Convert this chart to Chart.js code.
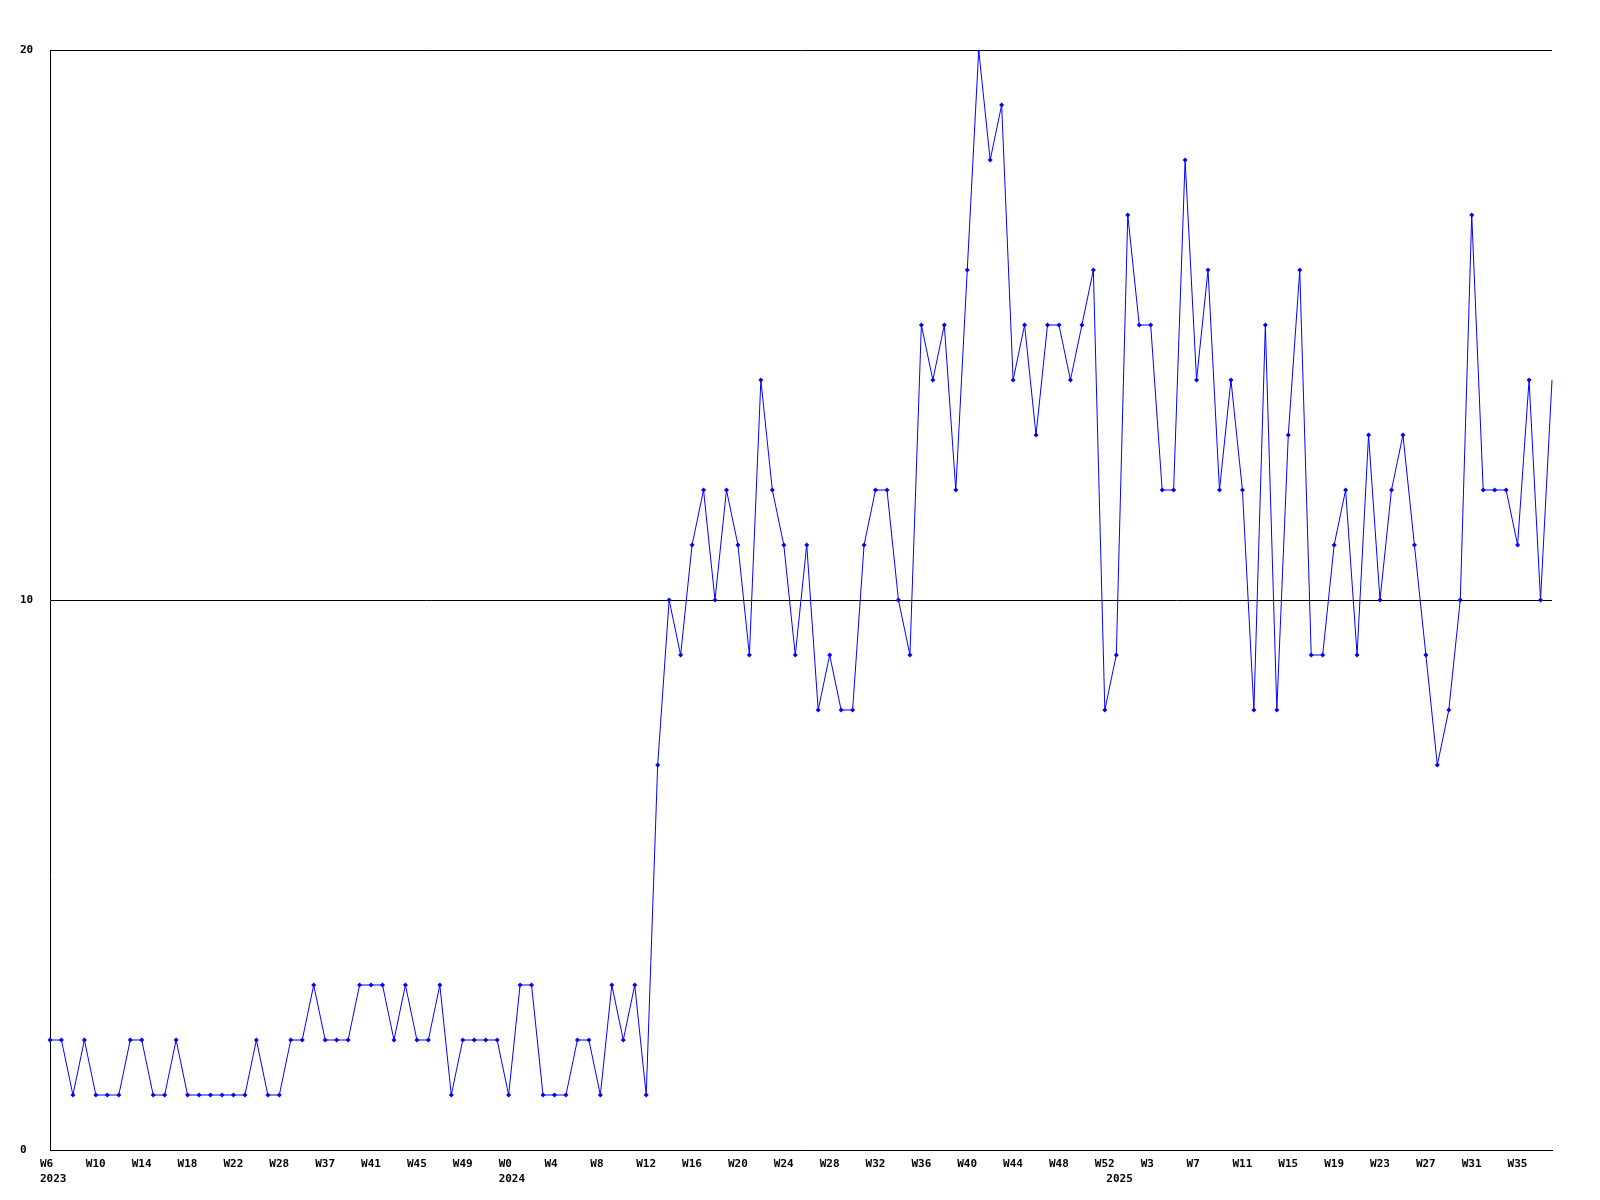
<!DOCTYPE html>
<html>
<head>
<meta charset="utf-8">
<script src="https://cdn.jsdelivr.net/npm/chart.js@4.4.1/dist/chart.umd.min.js"></script>
<style>
  body { margin: 0; background: #fff; }
  #wrap { width: 1600px; height: 1200px; }
</style>
</head>
<body>
<div id="wrap"><canvas id="chart" width="1600" height="1200"></canvas></div>
<script>
// weeks shown on the x axis, per year
const weeks2023 = [6, 7, 8, 9, 10, 11, 12, 13, 14, 15, 16, 17, 18, 19, 20, 21, 22, 23, 26, 27,
    28, 29, 35, 36, 37, 38, 39, 40, 41, 42, 43, 44, 45, 46, 47, 48, 49, 50, 51, 52];
const weeks2024 = [0, 1, 2, 3, 4, 5, 6, 7, 8, 9, 10, 11, 12, 13, 14, 15, 16, 17, 18, 19, 20,
    21, 22, 23, 24, 25, 26, 27, 28, 29, 30, 31, 32, 33, 34, 35, 36, 37, 38, 39, 40, 41, 42,
    43, 44, 45, 46, 47, 48, 49, 50, 51, 52];
const weeks2025 = [0, 1, 2, 3, 4, 5, 6, 7, 8, 9, 10, 11, 12, 13, 14, 15, 16, 17, 18, 19, 20,
    21, 22, 23, 24, 25, 26, 27, 28, 29, 30, 31, 32, 33, 34, 35, 36, 37, 38];
const years = ["2023", "2024", "2025"];

const counts = [
    2, 2, 1, 2, 1, 1, 1, 2, 2, 1, 1, 2, 1, 1, 1, 1, 1, 1, 2, 1,
    1, 2, 2, 3, 2, 2, 2, 3, 3, 3, 2, 3, 2, 2, 3, 1, 2, 2, 2, 2,
    1, 3, 3, 1, 1, 1, 2, 2, 1, 3, 2, 3, 1, 7, 10, 9, 11, 12, 10, 12,
    11, 9, 14, 12, 11, 9, 11, 8, 9, 8, 8, 11, 12, 12, 10, 9, 15, 14, 15, 12,
    16, 20, 18, 19, 14, 15, 13, 15, 15, 14, 15, 16, 8, 9, 17, 15, 15, 12, 12, 18,
    14, 16, 12, 14, 12, 8, 15, 8, 13, 16, 9, 9, 11, 12, 9, 13, 10, 12, 13, 11,
    9, 7, 8, 10, 17, 12, 12, 12, 11, 14, 10, 14
];

const yTicks = [0, 10, 20];

// build categories + where each year starts
var labels = [];
var yearAt = {};
[weeks2023, weeks2024, weeks2025].forEach(function (list, n) {
    yearAt[labels.length] = years[n];
    list.forEach(function (w) { labels.push("W" + w); });
});

var font = { family: "DejaVu Sans Mono", size: 11, weight: "bold", lineHeight: 1.4 };

var ctx = document.getElementById("chart").getContext("2d");
var myChart = new Chart(ctx, {
    type: "line",
    data: {
        labels: labels,
        datasets: [
            {
                data: counts,
                borderColor: "#0000ff",
                backgroundColor: "#0000ff",
                borderWidth: 1,
                tension: 0,
                pointStyle: "rectRot",
                pointRadius: function (c) { return c.dataIndex === counts.length - 1 ? 0 : 2.5; },
                pointBorderWidth: 0,
                fill: false,
            },
        ],
    },
    options: {
        responsive: false,
        animation: false,
        layout: { padding: { left: 20, right: 48, top: 50, bottom: 0 } },
        plugins: {
            legend: { display: false },
            tooltip: { enabled: false },
        },
        scales: {
            x: {
                grid: { display: false, drawTicks: false },
                border: { display: true, color: "#000", width: 1 },
                ticks: {
                    autoSkip: false,
                    maxRotation: 0,
                    minRotation: 0,
                    align: "start",
                    labelOffset: -10,
                    padding: 6,
                    color: "#000",
                    font: font,
                    callback: function (value, index) {
                        var week = index % 4 === 0 ? labels[index] : "";
                        if (yearAt[index]) return [week, yearAt[index]];
                        return week;
                    },
                },
                afterFit: function (scale) { scale.height = 50; },
            },
            y: {
                min: yTicks[0],
                max: yTicks[yTicks.length - 1],
                afterBuildTicks: function (scale) {
                    scale.ticks = yTicks.map(function (v) { return { value: v }; });
                },
                grid: { color: "#000", lineWidth: 1, drawTicks: false },
                border: { display: true, color: "#000", width: 1 },
                ticks: {
                    crossAlign: "far",
                    padding: 0,
                    color: "#000",
                    font: font,
                },
                afterFit: function (scale) { scale.width = 30; },
            },
        },
    },
});
</script>
</body>
</html>
